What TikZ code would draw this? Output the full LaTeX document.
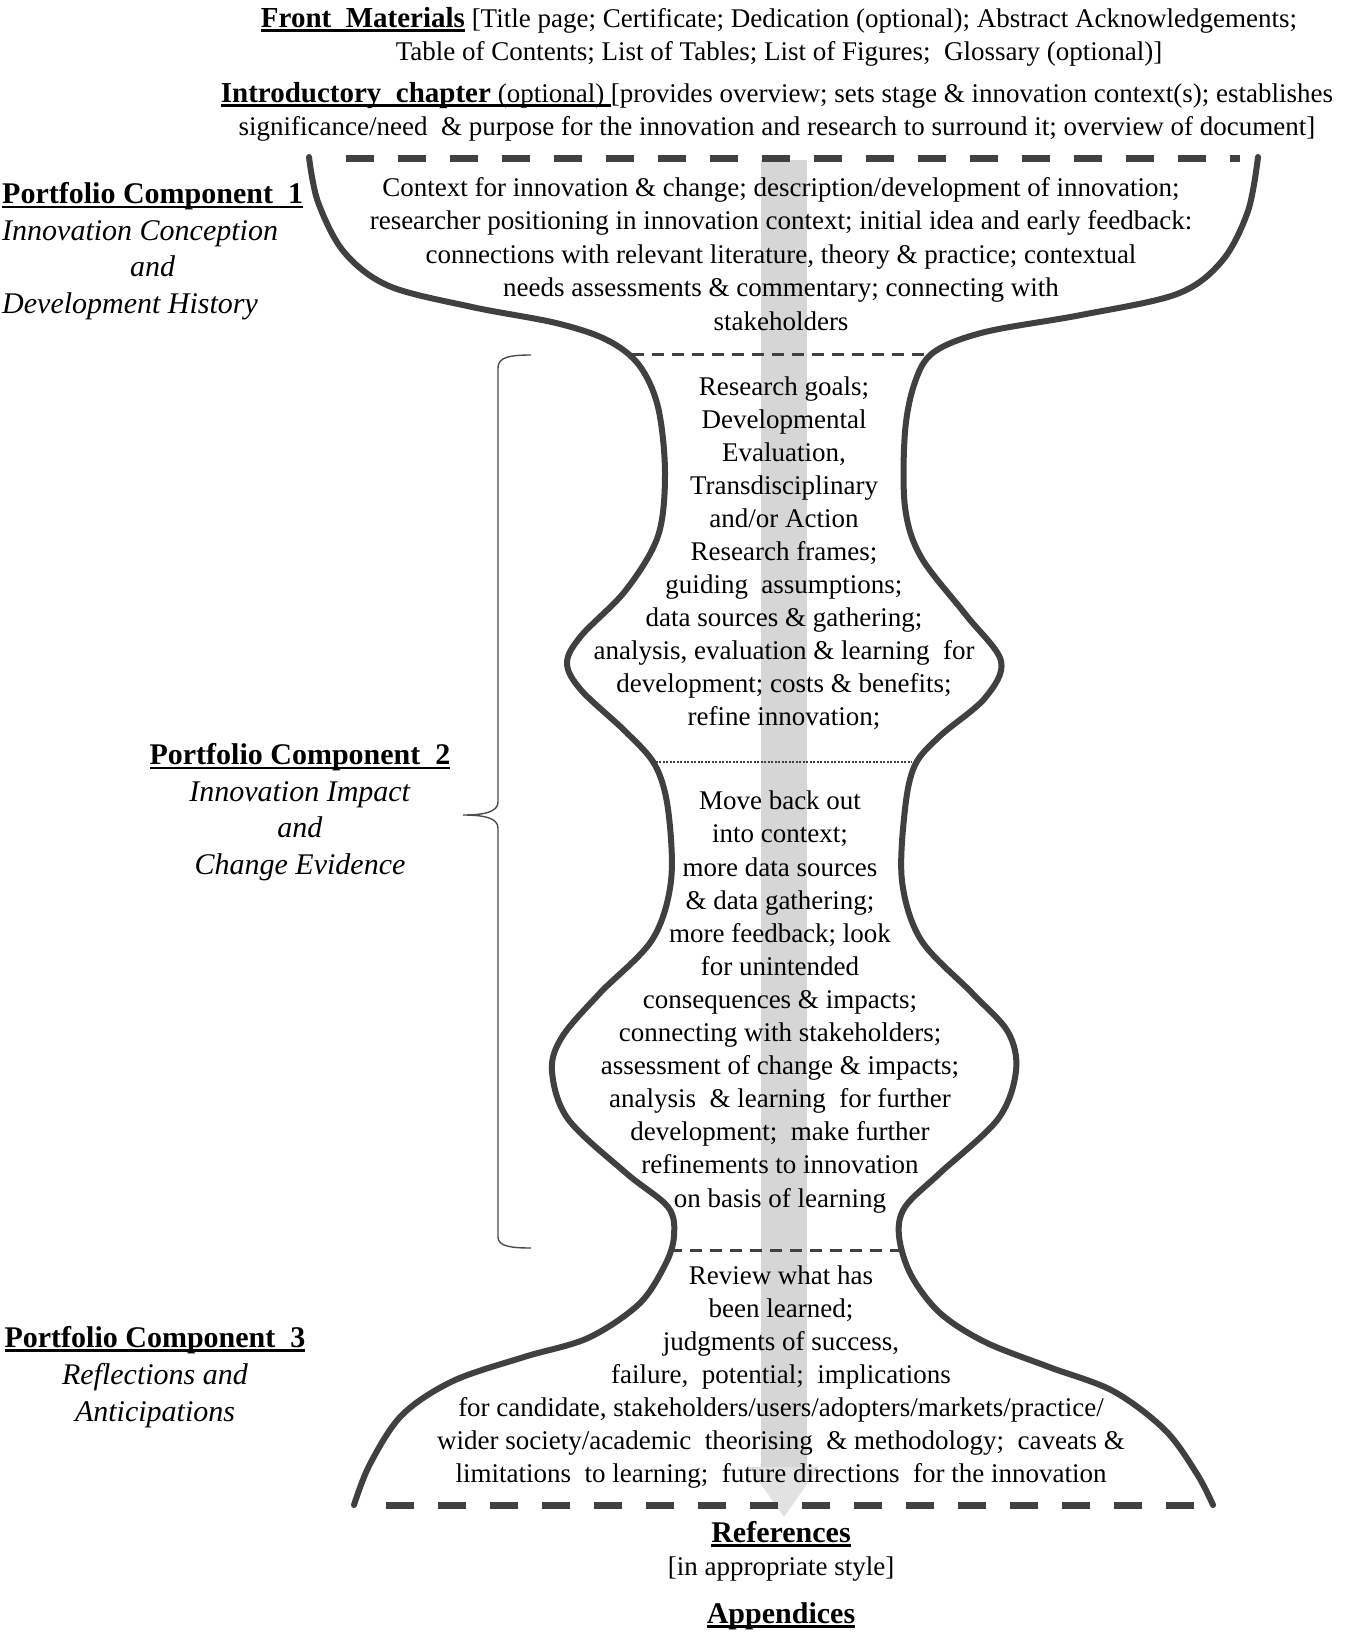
\documentclass[tikz,border=0pt]{standalone}
\usepackage{fontspec}
\setmainfont{Liberation Serif}
\newcommand\myul[1]{\setbox0\hbox{#1}\rlap{\rule[-4.5pt]{\wd0}{2.4pt}}\box0\relax}
\definecolor{outline}{HTML}{404040}
\definecolor{arrowgray}{HTML}{D6D6D6}
\definecolor{headgray}{HTML}{E2E2E2}
\begin{document}
\begin{tikzpicture}[x=1pt,y=-1pt,
  body/.style={align=center, font=\fontsize{27}{33}\selectfont, inner sep=0pt, anchor=base},
  side/.style={align=center, font=\fontsize{30}{36.5}\selectfont, inner sep=0pt, anchor=base},
  vase/.style={line width=6pt, draw=outline, line cap=round},
  thickdash/.style={line width=7pt, draw=outline, dash pattern=on 28pt off 24pt},
  thindash/.style={line width=3pt, draw=outline, dash pattern=on 12pt off 8pt},
  thindot/.style={line width=2pt, draw=outline, dash pattern=on 2pt off 1.5pt},
  bracestyle/.style={line width=1.4pt, draw=black!70}]
\useasboundingbox (0,0) rectangle (1358,1633);
\fill[white] (0,0) rectangle (1358,1633);

% gray arrow
\fill[arrowgray] (761,160) rectangle (807,1467);
\fill[headgray] (749,1467) -- (819,1467) -- (784,1517) -- cycle;

% vase outline
\draw[vase] plot[smooth, tension=0.55] coordinates {(309,157) (318,202) (344,252) (389,286) (472,307) (556,323) (607,340) (639,365) (658,407) (665,473) (658,536) (626,590) (581,636) (567,663) (581,690) (626,732) (655,765) (668,809) (671,881) (652,940) (600,993) (562,1037) (552,1071) (568,1119) (626,1173) (668,1207) (674,1236) (665,1265) (639,1304) (588,1338) (524,1357) (453,1381) (402,1415) (370,1464) (354,1505)};
\draw[vase] plot[smooth, tension=0.55] coordinates {(1258,157) (1248,211) (1222,261) (1177,294) (1081,315) (985,332) (934,352) (915,382) (905,432) (905,507) (921,557) (966,615) (1001,661) (985,698) (940,736) (915,765) (905,809) (902,881) (921,940) (972,993) (1008,1032) (1016,1071) (998,1119) (940,1173) (905,1207) (899,1236) (911,1275) (940,1313) (985,1342) (1049,1367) (1113,1391) (1165,1430) (1197,1474) (1213,1505)};

% separators
\draw[thickdash] (346,158) -- (1240,158);
\draw[thindash] (632,354) -- (932,354);
\draw[thindot] (652,762) -- (912,762);
\draw[thindash] (670,1250) -- (900,1250);
\draw[thickdash] (386,1505) -- (1212,1505);

% brace
\draw[bracestyle] (531,355) .. controls (510,355) and (498,357) .. (498,368) -- (498,802) .. controls (498,812) and (484,815) .. (463,815) .. controls (484,815) and (498,818) .. (498,828) -- (498,1237) .. controls (498,1246) and (510,1248) .. (531,1248);

% header (anchor base = baseline of last line)
\node[body] (front) at (779,60) {\myul{\fontsize{29}{33}\selectfont\textbf{Front\ \ Materials}} [Title page; Certificate; Dedication (optional); Abstract Acknowledgements;\\
Table of Contents; List of Tables; List of Figures;\ \ Glossary (optional)]};
\node[body] (intro) at (777,135) {\myul{{\fontsize{29}{33}\selectfont\textbf{Introductory\ \ chapter}} (optional)\ }[provides overview; sets stage \& innovation context(s); establishes\\
significance/need\ \ \& purpose for the innovation and research to surround it; overview of document]};

% vase texts
\node[body, font=\fontsize{27}{33.5}\selectfont] (sec1) at (781,330) {Context for innovation \& change; description/development of innovation;\\
researcher positioning in innovation context; initial idea and early feedback:\\
connections with relevant literature, theory \& practice; contextual\\
needs assessments \& commentary; connecting with\\
stakeholders};
\node[body] (sec2) at (784,725) {Research goals;\\ Developmental\\ Evaluation,\\ Transdisciplinary\\ and/or Action\\ Research frames;\\ guiding\ \ assumptions;\\ data sources \& gathering;\\ analysis, evaluation \& learning\ \ for\\ development; costs \& benefits;\\ refine innovation;};
\node[body, font=\fontsize{27}{33.1}\selectfont] (sec3) at (780,1207) {Move back out\\ into context;\\ more data sources\\ \& data gathering;\\ more feedback; look\\ for unintended\\ consequences \& impacts;\\ connecting with stakeholders;\\ assessment of change \& impacts;\\ analysis\ \ \& learning\ \ for further\\ development;\ \ make further\\ refinements to innovation\\ on basis of learning};
\node[body] (sec4) at (781,1482) {Review what has\\ been learned;\\ judgments of success,\\ failure,\ \ potential;\ \ implications\\ for candidate, stakeholders/users/adopters/markets/practice/\\ wider society/academic\ \ theorising\ \ \& methodology;\ \ caveats \&\\ limitations\ \ to learning;\ \ future directions\ \ for the innovation};

% bottom
\node[side] (refs) at (781,1542) {\myul{\textbf{References}}};
\node[body] (style) at (781,1575) {[in appropriate style]};
\node[side] (apps) at (781,1623) {\myul{\textbf{Appendices}}};

% side labels
\node[side, align=left, anchor=base west] (pc1) at (2,313) {\myul{\textbf{Portfolio Component\ \ 1}}\\ \textit{Innovation Conception}\\ \hspace*{128pt}\textit{and}\\ \textit{Development History}};
\node[side] (pc2) at (300,874) {\myul{\textbf{Portfolio Component\ \ 2}}\\ \textit{Innovation Impact}\\ \textit{and}\\ \textit{Change Evidence}};
\node[side, font=\fontsize{30}{37}\selectfont] (pc3) at (155,1421) {\myul{\textbf{Portfolio Component\ \ 3}}\\ \textit{Reflections and}\\ \textit{Anticipations}};
\end{tikzpicture}
\end{document}
